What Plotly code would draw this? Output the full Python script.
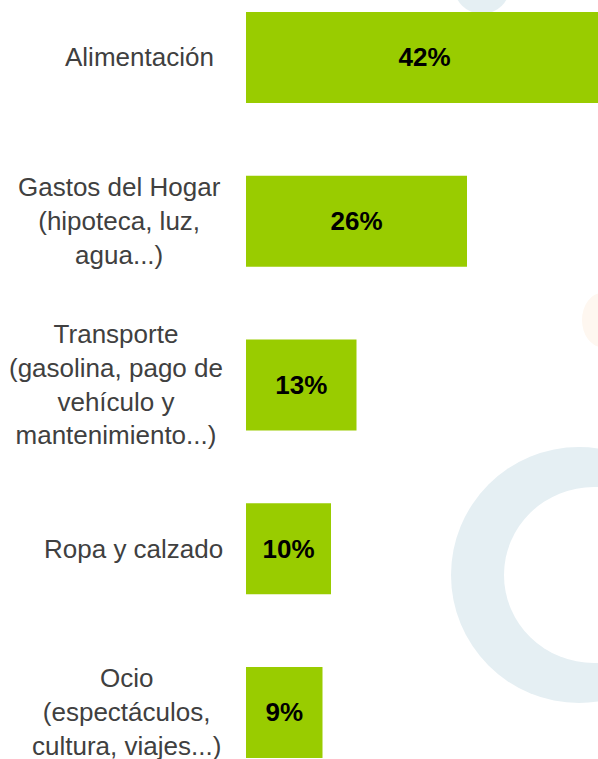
import plotly.graph_objects as go

categories = [
    "Alimentación",
    "Gastos del Hogar<br>(hipoteca, luz,<br>agua...)",
    "Transporte<br>(gasolina, pago de<br>vehículo y<br>mantenimiento...)",
    "Ropa y calzado",
    "Ocio<br>(espectáculos,<br>cultura, viajes...)",
]
values = [42, 26, 13, 10, 9]

W, H = 598, 759
L = 246
FONT = "Liberation Sans, Arial, sans-serif"

fig = go.Figure()
fig.add_trace(go.Bar(
    y=categories,
    x=values,
    orientation="h",
    marker=dict(color="#99cc00", line=dict(width=0)),
    texttemplate="<b>%{x}%</b>",
    textposition="inside",
    insidetextanchor="middle",
    constraintext="none",
    textfont=dict(family=FONT, size=26, color="#000000"),
    hoverinfo="skip",
))

def px_x(p):
    return (p - L) / (W - L)

def px_y(p):
    return (H - p) / H

shapes = [
    # light blue "C" watermark (outer circle)
    dict(type="circle", xref="paper", yref="paper", xsizemode="pixel", ysizemode="pixel",
         xanchor=px_x(579), yanchor=px_y(575), x0=-128, x1=128, y0=-128, y1=128,
         fillcolor="#e5eff3", line=dict(width=0), layer="below"),
    dict(type="circle", xref="paper", yref="paper", xsizemode="pixel", ysizemode="pixel",
         xanchor=px_x(594), yanchor=px_y(575), x0=-90, x1=90, y0=-88, y1=88,
         fillcolor="#ffffff", line=dict(width=0), layer="below"),
    # light blue blob at top
    dict(type="circle", xref="paper", yref="paper", xsizemode="pixel", ysizemode="pixel",
         xanchor=px_x(482), yanchor=px_y(-14), x0=-28, x1=28, y0=-28, y1=28,
         fillcolor="#e5eff3", line=dict(width=0), layer="below"),
    # faint orange blob at right
    dict(type="circle", xref="paper", yref="paper", xsizemode="pixel", ysizemode="pixel",
         xanchor=px_x(602), yanchor=px_y(320), x0=-20, x1=20, y0=-27, y1=27,
         fillcolor="#fef7f0", line=dict(width=0), layer="below"),
]

# right edge (pixels) of each label block
label_right_px = [216, 223, 225, 225, 223]

annotations = []
for cat, rpx in zip(categories, label_right_px):
    annotations.append(dict(
        x=px_x(rpx), xref="paper", xanchor="right",
        y=cat, yref="y", yanchor="middle",
        text=cat, showarrow=False, align="center",
        font=dict(family=FONT, size=26, color="#404040"),
    ))

fig.update_layout(
    width=W, height=H,
    margin=dict(l=L, r=0, t=0, b=0),
    paper_bgcolor="#ffffff",
    plot_bgcolor="rgba(0,0,0,0)",
    bargap=0.444,
    showlegend=False,
    shapes=shapes,
    annotations=annotations,
    xaxis=dict(range=[0, (W - L) / 8.5], visible=False, fixedrange=True),
    yaxis=dict(type="category", categoryorder="array", categoryarray=categories,
               range=[4.284, -0.351], visible=False, fixedrange=True),
)

fig.write_html(
    "out.html",
    config={"displayModeBar": False},
    post_script="document.body.style.margin='0';document.body.style.overflow='hidden';"
                "document.documentElement.style.overflow='hidden';",
)
